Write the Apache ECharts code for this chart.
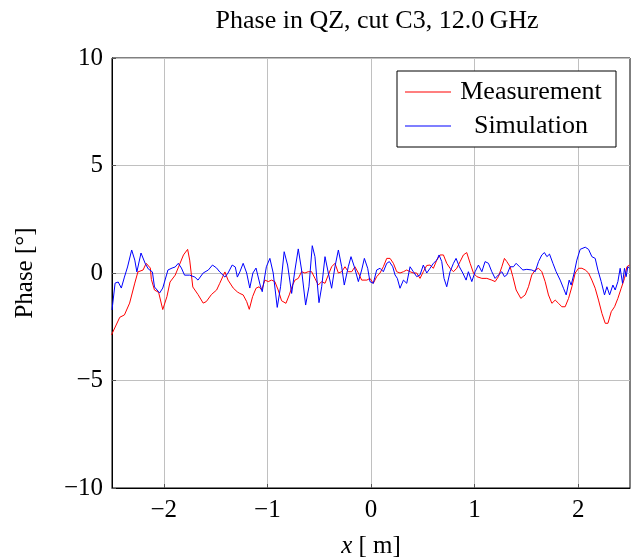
<!DOCTYPE html>
<html>
<head>
<meta charset="utf-8">
<script src="https://cdn.jsdelivr.net/npm/echarts@6/dist/echarts.min.js"></script>
<style>
html,body{margin:0;padding:0;background:#fff;}
#chart{width:641px;height:560px;}
</style>
</head>
<body>
<div id="chart"></div>
<script>
// 标题与坐标
var titleText = 'Phase in QZ, cut C3, 12.0\u2009GHz';
var xTicks = [-2, -1, 0, 1, 2];
var yTicks = [-10, -5, 0, 5, 10];

// Measurement (红线)
var measX = [-2.505,-2.425,-2.38,-2.33,-2.28,-2.25,-2.2,-2.17,-2.13,-2.12,-2.09,-2.05,-2.01,-1.97,-1.94,-1.89,-1.85,-1.81,-1.77,-1.75,-1.72,-1.67,-1.62,-1.59,-1.54,-1.49,-1.46,-1.41,-1.38,-1.33,-1.29,-1.266,-1.234,-1.2,-1.175,-1.143,-1.11,-1.08,-1.056,-1.024,-0.992,-0.96,-0.928,-0.896,-0.863,-0.821,-0.789,-0.757,-0.734,-0.702,-0.67,-0.638,-0.606,-0.573,-0.541,-0.509,-0.476,-0.444,-0.412,-0.38,-0.348,-0.315,-0.283,-0.251,-0.219,-0.186,-0.155,-0.122,-0.09,-0.04,-0.01,0.022,0.055,0.087,0.119,0.152,0.184,0.216,0.248,0.28,0.313,0.345,0.377,0.409,0.441,0.473,0.505,0.538,0.57,0.602,0.635,0.667,0.699,0.731,0.763,0.796,0.828,0.86,0.892,0.924,0.957,0.989,1.021,1.07,1.118,1.166,1.198,1.23,1.263,1.288,1.311,1.343,1.369,1.401,1.446,1.488,1.52,1.552,1.585,1.617,1.649,1.681,1.713,1.746,1.778,1.81,1.842,1.874,1.907,1.939,1.971,2.003,2.036,2.068,2.1,2.132,2.164,2.196,2.229,2.261,2.287,2.319,2.351,2.383,2.415,2.447,2.47,2.495];
var measY = [-2.88,-2.06,-1.95,-1.4,-0.47,0.05,0.14,0.45,0.23,-0.3,-0.79,-0.9,-1.7,-1.1,-0.42,-0.1,0.37,0.84,1.1,0.6,-0.65,-1.0,-1.4,-1.33,-1.0,-0.79,-0.48,0.05,-0.33,-0.7,-0.88,-0.95,-1.02,-1.33,-1.69,-1.1,-0.71,-0.64,-0.79,-0.33,-0.4,-0.33,-0.4,-0.79,-1.29,-1.41,-1.02,-0.56,-0.33,-0.25,0.06,0,0.06,0.06,-0.25,-0.56,-0.4,-0.48,-0.09,0.29,0.45,0,0.06,0.29,0.06,0.06,0.29,0,-0.33,-0.33,-0.25,-0.48,-0.17,0,0.29,0.68,0.68,0.45,0.06,0,0.06,0.14,0.06,0,0,-0.25,0.06,0.35,0.37,0.22,0.6,0.84,0.84,0.45,0.22,0.06,0.22,0.53,0.84,0.95,0.45,0,-0.17,-0.25,-0.25,-0.33,-0.4,-0.17,0.29,0.68,0.53,0.29,-0.17,-0.79,-1.18,-1.02,-0.64,-0.09,0.14,0.22,0.06,-0.4,-1.02,-1.41,-1.26,-1.41,-1.57,-1.57,-1.18,-0.64,0,0.22,0.22,0.14,0,-0.33,-0.71,-1.26,-1.88,-2.34,-2.34,-1.8,-1.57,-1.18,-0.71,-0.25,0.29,0.37];

// Simulation (蓝线)
var simX = [-2.5,-2.47,-2.44,-2.41,-2.38,-2.35,-2.31,-2.28,-2.26,-2.22,-2.18,-2.15,-2.11,-2.09,-2.04,-2.01,-1.96,-1.92,-1.89,-1.86,-1.83,-1.8,-1.75,-1.7,-1.67,-1.62,-1.57,-1.53,-1.49,-1.46,-1.41,-1.38,-1.34,-1.31,-1.29,-1.266,-1.234,-1.2,-1.17,-1.14,-1.11,-1.07,-1.05,-1.01,-0.976,-0.944,-0.905,-0.873,-0.838,-0.805,-0.766,-0.734,-0.702,-0.67,-0.631,-0.599,-0.567,-0.541,-0.502,-0.476,-0.444,-0.412,-0.38,-0.348,-0.315,-0.283,-0.258,-0.219,-0.193,-0.161,-0.122,-0.09,-0.064,-0.032,-0.01,0.022,0.055,0.087,0.119,0.152,0.177,0.21,0.232,0.254,0.28,0.313,0.345,0.377,0.409,0.441,0.473,0.505,0.538,0.57,0.602,0.635,0.657,0.683,0.705,0.731,0.763,0.796,0.821,0.853,0.886,0.918,0.94,0.973,1.005,1.037,1.07,1.101,1.134,1.166,1.198,1.23,1.263,1.288,1.311,1.343,1.375,1.401,1.434,1.466,1.504,1.552,1.585,1.617,1.649,1.674,1.698,1.723,1.756,1.787,1.826,1.858,1.884,1.913,1.932,1.961,1.987,2.019,2.068,2.1,2.132,2.164,2.19,2.222,2.254,2.277,2.303,2.335,2.357,2.383,2.405,2.428,2.447,2.463,2.479,2.495];
var simY = [-1.72,-0.47,-0.42,-0.7,-0.19,0.28,1.07,0.6,0.05,0.93,0.45,0.19,0.05,-0.65,-0.93,-0.7,0.14,0.23,0.28,0.45,0.23,-0.1,-0.1,-0.19,-0.33,0,0.14,0.37,0.23,0.05,-0.19,0,0.37,0.28,-0.19,0.05,0.45,0,-0.7,0,0.23,-0.56,-0.87,0.29,0.68,0,-1.6,-0.64,0.99,0.37,-0.95,0.14,1.12,0.14,-1.49,-0.64,1.27,0.76,-1.38,-0.64,0.76,0,-0.71,0.29,1.07,0.29,-0.56,0.29,0.76,0.29,-0.4,0.14,0.68,0.22,-0.4,-0.48,0.14,0.22,0.06,0.45,0.53,0.29,-0.09,-0.25,-0.71,-0.33,-0.48,0.29,0.06,-0.17,-0.09,0.37,0,0.22,0.45,0.6,0.84,0.53,-0.25,-0.64,0.06,0.45,0.68,0.29,0,-0.33,0.06,-0.4,0.06,0.37,0.06,0.53,0.45,0.06,-0.25,-0.09,0.06,-0.17,-0.09,0.29,0.29,0.45,0.29,0.14,0.17,0.14,0.06,0.53,0.84,0.95,0.76,0.88,0.45,0.06,-0.33,-0.71,-1.02,-0.33,-0.56,0,0.6,1.1,1.2,1.1,0.76,0.68,0.14,-0.4,-1.02,-0.64,-1.02,-0.56,-0.79,-0.4,0.22,-0.48,0.22,-0.17,0.29,0.22];

function zip(xs, ys){
	var out = [];
	for(var i=0;i<xs.length;i++){ out.push([xs[i], ys[i]]); }
	return out;
}
function minus(v){
	return String(v).replace('-', '\u2212');
}

var serif = '"Liberation Serif","DejaVu Serif",serif';
var chart = echarts.init(document.getElementById('chart'));
var option = {
	animation:false,
	backgroundColor:'#fff',
	title:{
		text:titleText,
		left:372, top:3, textAlign:'center',
		textStyle:{fontFamily:serif, fontSize:26, fontWeight:'normal', color:'#000'}
	},
	legend:{
		orient:'vertical',
		left:397, top:71,
		padding:[8, 10, 8, 8],
		itemGap:8,
		itemWidth:46, itemHeight:1,
		icon:'rect',
		borderColor:'#000', borderWidth:1,
		backgroundColor:'#fff',
		data:['Measurement','Simulation'],
		formatter:function(name){ return '{c|'+name+'}'; },
		textStyle:{
			fontFamily:serif, fontSize:26, color:'#000',
			rich:{c:{fontFamily:serif, fontSize:26, width:150, align:'center', lineHeight:28}}
		}
	},
	grid:{left:112, right:11, top:58, bottom:72, outerBoundsMode:'none', containLabel:false,
		show:true, borderColor:'#000', borderWidth:1, backgroundColor:'transparent'},
	xAxis:{
		type:'value', min:-2.5, max:2.5,
		name:'{i|x} [ m]', nameLocation:'middle', nameGap:46,
		nameTextStyle:{fontFamily:serif, fontSize:25, color:'#000',
			rich:{i:{fontFamily:serif, fontStyle:'italic', fontSize:25, color:'#000'}}},
		axisLine:{show:true, onZero:false, lineStyle:{color:'#000', width:1}},
		axisTick:{show:true, inside:true, length:4, customValues:xTicks, lineStyle:{color:'#555'}},
		axisLabel:{customValues:xTicks, fontFamily:serif, fontSize:25, color:'#000', margin:10, formatter:minus},
		splitLine:{show:true, lineStyle:{color:'#c0c0c0', width:1}}
	},
	yAxis:{
		type:'value', min:-10, max:10, interval:5,
		name:'Phase [°]', nameLocation:'middle', nameGap:74, nameRotate:90,
		nameTextStyle:{fontFamily:serif, fontSize:25, color:'#000'},
		axisLine:{show:true, onZero:false, lineStyle:{color:'#000', width:1}},
		axisTick:{show:true, inside:true, length:4, lineStyle:{color:'#555'}},
		axisLabel:{fontFamily:serif, fontSize:25, color:'#000', margin:9, formatter:minus},
		splitLine:{show:true, lineStyle:{color:'#c0c0c0', width:1}}
	},
	series:[
		{name:'Measurement', type:'line', symbol:'none', data:zip(measX, measY),
			lineStyle:{color:'#ff0000', width:1}, itemStyle:{color:'#ff0000'}},
		{name:'Simulation', type:'line', symbol:'none', data:zip(simX, simY),
			lineStyle:{color:'#0000ff', width:1}, itemStyle:{color:'#0000ff'}}
	]
};
chart.setOption(option);
</script>
</body>
</html>
